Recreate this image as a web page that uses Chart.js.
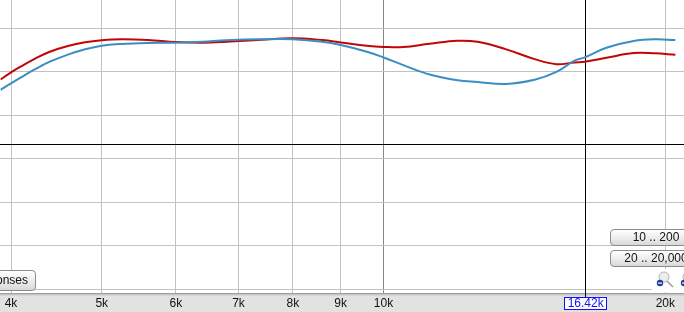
<!DOCTYPE html>
<html>
<head>
<meta charset="utf-8">
<script src="https://cdn.jsdelivr.net/npm/chart.js@4"></script>
<style>
  html, body { margin: 0; padding: 0; background: #fff; overflow: hidden; }
  #wrap { position: relative; width: 684px; height: 312px; overflow: hidden; }
  .btn {
    position: absolute; box-sizing: border-box;
    border: 1px solid #8c8c8c; border-radius: 4px;
    background: linear-gradient(#ffffff, #ececec 55%, #d8d8d8);
    font: 12px "Liberation Sans", Arial, sans-serif; color: #111;
    text-align: center; white-space: nowrap;
  }
</style>
</head>
<body>
<div id="wrap">
  <canvas id="chart" width="684" height="312"></canvas>
  <div class="btn" style="left:-40px;top:270px;width:76px;height:21px;line-height:19px">Responses</div>
  <div class="btn" style="left:610px;top:229px;width:92px;height:17px;line-height:15px">10 .. 200</div>
  <div class="btn" style="left:610px;top:250px;width:92px;height:17px;line-height:15px">20 .. 20,000</div>
</div>
<script>
// frequency points (Hz) shared by both responses
const freqHz = [3900, 4000, 4100, 4230, 4400, 4600, 4800, 5000, 5250, 5600,
                6000, 6400, 6800, 7400, 8000, 8600, 9000, 9600, 10000, 10500,
                11200, 12000, 12600, 13500, 14500, 15300, 16000, 16400, 17300, 18500,
                19500, 20500];

// level in dB
const redDb  = [-5.88, -5.06, -4.37, -3.56, -2.69, -2.03, -1.61, -1.38, -1.26, -1.34,
                -1.58, -1.66, -1.55, -1.32, -1.15, -1.35, -1.62, -2.01, -2.14, -2.16,
                -1.78, -1.43, -1.55, -2.39, -3.54, -4.12, -3.92, -3.85, -3.39, -2.85,
                -2.88, -3.05];
const blueDb = [-7.07, -6.32, -5.63, -4.79, -3.84, -3.03, -2.41, -2.00, -1.80, -1.69,
                -1.66, -1.55, -1.38, -1.27, -1.27, -1.55, -1.93, -2.70, -3.35, -4.23,
                -5.31, -5.97, -6.16, -6.39, -5.91, -5.01, -3.72, -3.35, -2.24, -1.47,
                -1.27, -1.35];

const xTicks = [4000, 5000, 6000, 7000, 8000, 9000, 10000, 20000];
const xTickLabels = ['4k', '5k', '6k', '7k', '8k', '9k', '10k', '20k'];
const yGrid = [-30, -25, -20, -15, -10, -5, 0];

// crosshair position
const cursorFreq = 16420;
const cursorDb = -13.33;
const cursorLabel = '16.42k';

const FONT = '"Liberation Sans", Arial, sans-serif';

const decor = {
    id: 'decor',
    beforeDraw(chart) {
        const { ctx, chartArea: a, width, height } = chart;
        ctx.save();
        ctx.fillStyle = '#e2e2e2';
        ctx.fillRect(0, a.bottom, width, height - a.bottom + 4);
        // shadow at the top of the axis bar
        [['#9e9e9e', 0], ['#c4c4c4', 1], ['#d6d6d6', 2]].forEach(([c, d]) => {
            ctx.fillStyle = c;
            ctx.fillRect(0, Math.round(a.bottom) + d, width, 1);
        });
        ctx.restore();
    },
    beforeDatasetsDraw(chart) {
        const { ctx, chartArea: a, scales } = chart;
        const x = Math.round(scales.x.getPixelForValue(cursorFreq) - 0.5) + 0.5;
        const y = Math.round(scales.y.getPixelForValue(cursorDb) - 0.5) + 0.5;
        ctx.save();
        ctx.strokeStyle = '#000';
        ctx.lineWidth = 1;
        ctx.beginPath();
        ctx.moveTo(a.left, y); ctx.lineTo(a.right, y);
        ctx.moveTo(x, a.top); ctx.lineTo(x, a.bottom + 4);
        ctx.stroke();
        ctx.restore();
    },
    afterDraw(chart) {
        const { ctx, chartArea: a, scales } = chart;
        const x = scales.x.getPixelForValue(cursorFreq);
        ctx.save();
        // cursor readout on the axis
        ctx.font = '12px ' + FONT;
        const w = Math.round(ctx.measureText(cursorLabel).width) + 6;
        const bx = Math.round(x - w / 2) + 0.5, by = Math.round(a.bottom) + 4.5;
        ctx.fillStyle = '#fff';
        ctx.fillRect(bx, by, w, 12);
        ctx.strokeStyle = '#1010ff';
        ctx.strokeRect(bx, by, w, 12);
        ctx.fillStyle = '#1010ff';
        ctx.textAlign = 'center';
        ctx.textBaseline = 'middle';
        ctx.fillText(cursorLabel, x + 0.5, by + 6.5);

        // zoom buttons
        ctx.fillStyle = '#fff';
        ctx.fillRect(652, 269, 32, 23);
        const glass = (cx, cy) => {
            ctx.strokeStyle = '#9a9a9a';
            ctx.lineWidth = 1.5;
            ctx.beginPath();
            ctx.moveTo(cx + 3, cy + 4); ctx.lineTo(cx + 9, cy + 10);
            ctx.stroke();
            ctx.fillStyle = '#eeeeee';
            ctx.strokeStyle = '#b4b4b4';
            ctx.lineWidth = 1;
            ctx.beginPath(); ctx.arc(cx, cy, 5, 0, Math.PI * 2); ctx.fill(); ctx.stroke();
            ctx.fillStyle = '#1c3f9a';
            ctx.beginPath(); ctx.arc(cx - 4, cy + 6, 3.2, 0, Math.PI * 2); ctx.fill();
            ctx.fillStyle = '#fff';
            ctx.fillRect(cx - 6, cy + 5.5, 4, 1.2);
        };
        glass(664, 277);
        glass(688, 277);
        ctx.restore();
    }
};

const toPoints = vals => freqHz.map((f, i) => ({ x: f, y: vals[i] }));

new Chart(document.getElementById('chart'), {
    type: 'line',
    data: {
        datasets: [
            { label: 'blue', data: toPoints(blueDb), borderColor: '#3a8ec2', borderWidth: 2,
              pointRadius: 0, tension: 0.4, fill: false },
            { label: 'red', data: toPoints(redDb), borderColor: '#c00606', borderWidth: 2,
              pointRadius: 0, tension: 0.4, fill: false }
        ]
    },
    options: {
        responsive: false,
        animation: false,
        devicePixelRatio: 1,
        layout: { padding: { left: 0, right: 0, top: 0, bottom: -2 } },
        plugins: { legend: { display: false }, tooltip: { enabled: false } },
        events: [],
        scales: {
            x: {
                type: 'logarithmic', min: 3893, max: 20940,
                afterBuildTicks: axis => { axis.ticks = xTicks.map(v => ({ value: v })); },
                ticks: { callback: (v, i) => xTickLabels[i], autoSkip: false, maxRotation: 0,
                         padding: 3.3, color: '#111', font: { family: FONT, size: 12 } },
                grid: { drawTicks: false, color: c => (c.tick && c.tick.value === 10000) ? '#868686' : '#c2c2c2' },
                border: { display: false }
            },
            y: {
                min: -30.425, max: 3.253,
                afterBuildTicks: axis => { axis.ticks = yGrid.map(v => ({ value: v })); },
                ticks: { display: false },
                grid: { drawTicks: false, color: '#c2c2c2' },
                border: { display: false }
            }
        }
    },
    plugins: [decor]
});
</script>
</body>
</html>
